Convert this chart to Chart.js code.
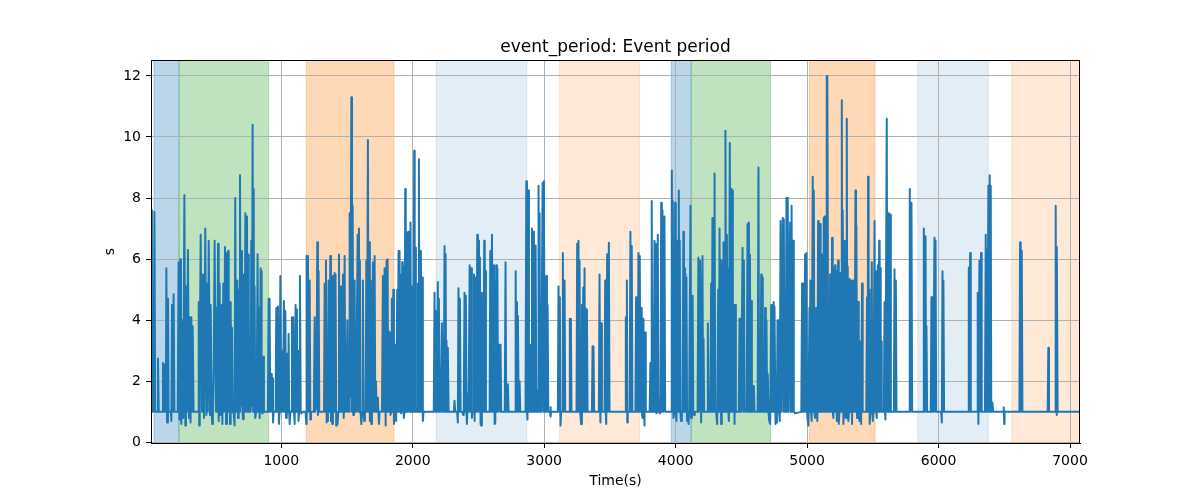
<!DOCTYPE html>
<html>
<head>
<meta charset="utf-8">
<script src="https://cdn.jsdelivr.net/npm/chart.js@4.4.0/dist/chart.umd.min.js"></script>
<style>
  body { margin: 0; background: #fff; }
  canvas { display: block; }
</style>
</head>
<body>
<canvas id="event-chart" width="1200" height="500"></canvas>
<script>
// sample times (s) and event period (s)
var time = [
    10, 16, 28, 35, 41, 56, 62, 68, 95, 100, 104, 108, 112, 122, 126, 131, 138, 143, 160, 164, 169, 175, 181, 187,
    212, 219, 225, 232, 237, 240, 247, 254, 263, 270, 275, 282, 290, 298, 303, 310, 316, 321, 326, 333,
    368, 372, 376, 380, 387, 397, 405, 412, 422, 430, 435, 441, 448, 458, 463, 470, 475, 480, 486, 493, 503, 506, 512,
    519, 524, 531, 537, 544, 552, 559, 565, 572, 580, 587, 592,
    595, 600, 605, 610, 615, 620, 625, 631, 638, 645, 650, 656, 661, 666, 671, 676, 681, 686, 691, 696, 701, 705, 709,
    714, 720, 727, 733, 739, 743, 747, 751, 754, 758, 762, 767, 772, 777, 782, 786, 790, 794, 797, 802, 808, 814, 820,
    825, 830, 836, 843, 846, 848, 853, 858, 863, 868, 875,
    898, 904, 908, 911, 916, 924, 928, 932, 937, 942,
    957, 962, 968, 975, 982, 987, 993, 999, 1003, 1008, 1013, 1020, 1026, 1031, 1036, 1042, 1046, 1051, 1056, 1060, 1064, 1069,
    1076, 1081, 1086, 1091, 1097, 1102, 1109, 1114, 1119, 1123, 1127, 1131, 1136, 1142, 1148, 1155, 1162,
    1185, 1190, 1193, 1198,
    1203, 1208, 1216, 1221, 1226, 1248, 1254, 1258, 1262, 1267, 1274, 1279, 1284, 1289,
    1325, 1330, 1335, 1340, 1345, 1350, 1355, 1360, 1366, 1373, 1378, 1383, 1388, 1393, 1399, 1406, 1410, 1413, 1418,
    1423, 1428, 1434, 1439, 1444, 1449, 1454,
    1464, 1469, 1475, 1482, 1487, 1493, 1499, 1503, 1508, 1512, 1516, 1520, 1525, 1533, 1538, 1543, 1548, 1553, 1558,
    1563, 1570, 1576, 1581, 1586, 1591, 1595, 1598, 1603, 1609, 1615, 1621, 1626, 1631, 1636, 1642, 1647, 1652, 1659,
    1664, 1669, 1674, 1680, 1685, 1690, 1697, 1702, 1710, 1715, 1720, 1725, 1735, 1739, 1743, 1748, 1766, 1773, 1779,
    1786, 1794, 1801, 1806, 1809,
    1813, 1817, 1822, 1826, 1831, 1836, 1841, 1846, 1852, 1857, 1862, 1867, 1874, 1882, 1887, 1892, 1896, 1900, 1904,
    1907, 1912, 1920, 1924, 1928, 1932, 1938, 1943, 1947, 1950, 1954, 1958, 1963, 1968, 1973, 1977, 1983, 1988, 1993,
    1997, 2001, 2006, 2011, 2015, 2019, 2024, 2029, 2034, 2040, 2043, 2047, 2051, 2054, 2058, 2062, 2067, 2072, 2077, 2082,
    2160, 2166, 2172, 2179, 2184, 2191, 2195, 2199, 2204, 2209, 2214, 2222, 2228, 2236, 2242, 2246, 2250, 2254, 2257,
    2262, 2267, 2273,
    2313, 2318, 2323, 2338, 2343, 2348, 2353, 2359, 2364, 2378, 2383, 2388, 2394, 2399, 2404, 2409, 2412, 2416,
    2420, 2425, 2433, 2438, 2445, 2450, 2455, 2460, 2466, 2471, 2478, 2484, 2491, 2496, 2504, 2508, 2511, 2516, 2521,
    2526, 2531, 2538, 2544, 2548, 2552, 2557,
    2585, 2590, 2595, 2603, 2607, 2610, 2614, 2618, 2623, 2628, 2635, 2640, 2644, 2649, 2656, 2661, 2665, 2668, 2673,
    2700, 2706, 2711, 2717, 2721, 2724, 2729,
    2778, 2783, 2788, 2793, 2797, 2800, 2806, 2813, 2818,
    2858, 2864, 2869, 2873, 2879, 2884, 2892, 2897, 2902, 2907, 2912, 2917, 2922, 2927, 2931, 2935, 2940, 2946, 2950,
    2954, 2957, 2961, 2965, 2969, 2972, 2977, 2983, 2988, 2993, 2998, 3003, 3010, 3016, 3021, 3026, 3031,
    3045, 3048, 3050, 3052,
    3104, 3109, 3114, 3119, 3124, 3129, 3137, 3142, 3147, 3155, 3160,
    3190, 3195, 3200, 3203, 3208,
    3246, 3251, 3256, 3261, 3265, 3269, 3274, 3281, 3287, 3292, 3297, 3302, 3307, 3311, 3314, 3319, 3325, 3330,
    3363, 3368, 3372, 3375, 3380,
    3416, 3421, 3426, 3428, 3434, 3439,
    3459, 3464, 3468, 3472, 3479, 3484, 3492, 3497,
    3615, 3621, 3626, 3629, 3632, 3636,
    3650, 3656, 3661, 3666, 3671,
    3694, 3699, 3704, 3707, 3712, 3717, 3722, 3727, 3732, 3737, 3742, 3748, 3755, 3760, 3763, 3768, 3773,
    3802, 3808, 3813, 3818, 3823, 3828, 3833, 3839, 3844, 3849, 3854, 3859, 3864, 3869, 3874, 3880, 3885, 3890, 3895,
    3900, 3905, 3910, 3915, 3920,
    3965, 3971, 3975, 3978, 3983, 3989, 3996, 4001, 4006, 4014, 4019, 4024, 4028, 4031, 4036, 4041, 4047, 4053, 4059,
    4063, 4067, 4071, 4075, 4079, 4082, 4087, 4093, 4098, 4103, 4108, 4113, 4118, 4124, 4129, 4134, 4140, 4146,
    4167, 4173, 4178, 4186, 4194, 4204, 4209, 4212, 4217,
    4240, 4245, 4250, 4264, 4270, 4275, 4280, 4285, 4291, 4294, 4296, 4301, 4308, 4316, 4324, 4329, 4334, 4338, 4341,
    4346, 4351, 4357, 4361, 4364, 4368, 4372, 4376, 4379, 4384, 4390, 4394, 4397, 4401, 4405, 4412, 4417, 4422, 4426,
    4430, 4435, 4440, 4445, 4448, 4453, 4458, 4465,
    4480, 4486, 4490, 4493, 4498, 4503, 4509, 4514, 4519, 4524, 4528, 4534, 4540, 4547, 4552, 4557, 4561, 4565, 4570,
    4575, 4580, 4585, 4595, 4600,
    4624, 4630, 4635, 4640, 4646, 4651, 4655, 4658, 4663, 4668, 4675, 4681, 4686, 4691, 4696, 4701, 4706, 4712, 4719,
    4727, 4732, 4737, 4741, 4744, 4748, 4752, 4760, 4765, 4770, 4775, 4779, 4782, 4787, 4792, 4798, 4803, 4808, 4815,
    4820, 4823, 4828, 4837, 4843, 4847, 4850,
    4853, 4858, 4862, 4871, 4875, 4878, 4881, 4883, 4888, 4894, 4899, 4904, 4909,
    4956, 4962, 4967, 4972, 4977, 4985, 4990, 4995, 5000, 5005, 5010, 5018, 5022, 5025, 5030, 5035, 5043, 5047, 5051,
    5056, 5060, 5068, 5073, 5078, 5084, 5088, 5091, 5095, 5099, 5103, 5106, 5111, 5115, 5119, 5122, 5124, 5128, 5132,
    5136, 5140, 5144, 5148, 5151, 5154, 5161, 5165, 5170, 5175, 5180, 5185, 5190, 5195, 5200, 5205, 5209, 5213, 5217,
    5221, 5226, 5231, 5236, 5241, 5246, 5253, 5258, 5264, 5268, 5271, 5276, 5281, 5286, 5291, 5296, 5302, 5306, 5309,
    5314, 5319, 5324, 5329, 5335, 5342, 5350, 5355, 5361, 5368, 5372, 5375, 5380, 5384, 5388, 5393, 5398, 5406, 5411,
    5418, 5423, 5428, 5440, 5450, 5456, 5459,
    5462, 5464, 5468, 5472, 5476, 5481, 5487, 5492, 5496, 5500, 5506, 5513, 5518, 5523, 5527, 5530, 5538, 5542, 5548,
    5552, 5556, 5560, 5563, 5568, 5574,
    5584, 5589, 5593, 5596, 5606, 5611, 5617, 5622, 5627, 5632, 5637,
    5660, 5665, 5670, 5675, 5680,
    5776, 5781, 5786, 5794, 5799,
    5883, 5888, 5893, 5901, 5905, 5908, 5913,
    5941, 5946, 5950, 5954, 5959, 5964, 5969, 5973, 5977, 5982,
    6020, 6025, 6030, 6034, 6037, 6042,
    6225, 6230, 6235, 6240, 6245,
    6293, 6298, 6303, 6311, 6316, 6323, 6328,
    6353, 6359, 6363, 6367, 6371, 6375, 6379, 6383, 6389, 6393, 6397, 6401, 6406, 6410, 6415,
    6493, 6496, 6499, 6502,
    6615, 6620, 6625, 6633, 6638,
    6830, 6835, 6840,
    6886, 6891, 6896, 6898, 6901, 6906,
    7076
];

var period = [
    7.6, 1.0, 1.0, 7.55, 1.0, 1.0, 2.75, 1.0, 1.0, 2.6, 1.0, 2.55, 1.0, 1.0, 5.7, 0.65, 4.7, 1.0, 1.0, 0.7, 4.5, 1.0, 4.85, 1.0,
    1.0, 5.9, 0.75, 6.0, 1.0, 0.6, 4.0, 0.8, 8.1, 0.55, 5.1, 1.0, 6.3, 0.8, 4.1, 0.65, 4.1, 1.0, 3.8, 1.0,
    1.0, 4.6, 0.55, 2.8, 6.8, 1.0, 5.5, 0.8, 7.0, 0.9, 5.2, 1.0, 6.6, 0.9, 4.5, 1.0, 0.6, 1.0, 2.5, 6.6, 1.0, 4.4, 1.0,
    6.5, 0.7, 5.2, 0.9, 4.5, 0.6, 5.2, 1.0, 6.4, 0.6, 6.2, 1.0,
    6.27, 1.0, 4.6, 0.6, 4.6, 1.0, 3.75, 1.0, 0.95, 0.55, 8.0, 1.0, 3.0, 5.3, 0.8, 5.0, 1.0, 8.75, 1.2, 6.27, 5.8, 1.0, 0.76,
    5.5, 1.0, 7.5, 1.0, 7.4, 1.5, 6.15, 1.0, 4.0, 1.0, 1.8, 1.0, 6.6, 1.2, 10.4, 1.0, 8.3, 1.0, 5.1, 0.8, 1.0, 2.0, 6.16,
    1.0, 4.4, 0.8, 5.7, 1.0, 5.6, 1.0, 0.95, 2.8, 1.0, 1.0,
    1.0, 4.7, 1.0, 4.7, 1.0, 2.24, 1.0, 2.1, 0.65, 1.0,
    1.0, 4.4, 1.0, 4.45, 0.6, 1.0, 5.45, 1.0, 1.0, 3.0, 1.0, 4.63, 1.0, 4.3, 0.8, 1.0, 2.9, 1.0, 3.55, 1.0, 0.6, 1.0,
    1.0, 4.1, 1.0, 4.1, 1.0, 0.6, 4.5, 1.0, 4.35, 1.0, 3.0, 0.7, 1.0, 5.45, 1.0, 0.95, 1.0,
    1.0, 0.6, 6.1, 1.0,
    6.1, 1.0, 5.3, 0.75, 1.0, 1.0, 4.1, 1.0, 1.0, 1.2, 6.55, 0.9, 5.6, 1.0,
    1.0, 5.2, 1.0, 5.95, 0.65, 1.0, 0.7, 5.3, 1.0, 6.1, 0.7, 1.0, 0.6, 5.45, 1.0, 5.55, 1.0, 5.5, 0.55,
    1.0, 0.6, 1.0, 6.15, 1.0, 5.1, 1.0,
    1.0, 5.5, 0.8, 6.1, 1.0, 1.0, 1.0, 4.0, 1.0, 2.3, 1.0, 7.5, 1.5, 11.3, 1.0, 7.75, 0.9, 1.5, 5.3,
    1.0, 1.0, 1.0, 6.8, 1.0, 7.0, 1.0, 5.95, 1.0, 0.6, 1.0, 5.3, 1.0, 0.7, 1.0, 1.0, 5.95, 1.0, 9.9,
    1.0, 6.55, 0.7, 5.3, 0.6, 1.0, 5.9, 1.0, 6.1, 1.0, 2.0, 1.0, 1.47, 1.0, 0.6, 1.0, 1.0, 5.45, 1.0,
    5.7, 0.55, 5.95, 1.0, 6.0,
    1.0, 3.65, 1.0, 3.6, 0.9, 1.0, 4.7, 1.0, 5.0, 0.6, 1.0, 3.2, 0.7, 5.0, 1.0, 6.27, 1.0, 6.27, 1.0,
    5.5, 0.95, 5.9, 1.0, 5.75, 0.8, 1.0, 8.3, 1.0, 6.37, 1.0, 6.87, 1.0, 6.9, 1.8, 1.0, 7.2, 1.0, 5.1,
    1.0, 2.1, 1.0, 9.55, 1.0, 6.37, 1.0, 1.15, 1.0, 5.2, 1.0, 9.27, 1.0, 6.27, 1.0, 6.27, 1.0, 5.4, 0.7, 1.0,
    1.0, 4.9, 1.0, 4.3, 1.0, 5.25, 1.0, 4.7, 1.0, 1.15, 1.0, 3.9, 1.0, 1.0, 6.43, 1.0, 6.16, 1.0, 3.33,
    1.0, 3.1, 1.0,
    1.0, 1.36, 1.0, 1.0, 0.65, 5.05, 1.0, 4.7, 1.0, 1.0, 0.9, 1.0, 4.9, 1.0, 4.8, 1.0, 0.6, 1.0,
    1.6, 1.0, 5.8, 1.0, 5.7, 0.8, 1.0, 1.0, 5.5, 0.7, 5.4, 1.0, 6.8, 1.0, 6.6, 1.0, 6.05, 0.6, 0.55,
    4.9, 1.0, 1.0, 6.6, 1.0, 5.6, 1.0,
    1.0, 6.27, 1.0, 6.8, 1.0, 5.6, 1.0, 5.8, 0.6, 0.65, 5.8, 1.0, 5.7, 1.0, 1.0, 3.2, 1.0, 3.2, 1.0,
    1.0, 5.9, 1.0, 1.9, 1.0, 1.9, 1.0,
    1.0, 5.6, 1.0, 4.6, 1.0, 4.15, 1.0, 2.0, 1.0,
    1.0, 8.55, 1.0, 0.75, 8.25, 1.0, 1.0, 3.2, 1.0, 7.0, 1.0, 6.9, 1.0, 6.3, 1.0, 6.45, 1.0, 1.0, 1.7,
    1.0, 8.4, 1.0, 7.5, 1.0, 1.8, 1.0, 1.0, 8.5, 1.0, 8.55, 1.0, 1.0, 5.45, 1.0, 4.5, 1.0,
    1.0, 1.15, 0.85, 1.0,
    1.0, 5.1, 1.0, 4.75, 0.55, 1.0, 1.0, 6.2, 1.0, 5.3, 1.0,
    1.0, 4.05, 1.0, 4.05, 1.0,
    1.0, 6.5, 1.0, 6.6, 1.0, 5.95, 1.0, 0.6, 4.5, 1.0, 5.07, 1.0, 5.7, 1.0, 4.4, 1.0, 4.35, 1.0,
    1.0, 3.15, 1.0, 3.15, 1.0,
    1.0, 5.5, 1.0, 0.65, 3.9, 1.0,
    1.0, 5.3, 1.0, 0.6, 6.16, 1.0, 6.54, 1.0,
    1.0, 4.1, 1.0, 5.3, 0.65, 1.0,
    1.0, 6.9, 1.0, 6.43, 1.0,
    1.0, 4.75, 1.0, 4.7, 1.0, 6.2, 1.0, 6.1, 1.0, 4.4, 1.0, 0.8, 4.05, 1.0, 0.55, 3.6, 1.0,
    1.0, 2.6, 1.0, 7.9, 1.0, 1.8, 1.0, 6.6, 1.0, 6.5, 0.95, 1.0, 6.8, 1.5, 1.0, 0.95, 1.0, 7.85, 1.0,
    7.6, 1.0, 1.0, 7.4, 1.0,
    1.0, 8.9, 1.0, 7.9, 0.8, 1.0, 7.85, 1.0, 0.7, 6.6, 1.0, 8.25, 1.0, 6.6, 1.0, 0.7, 1.0, 1.0, 6.9,
    1.0, 5.7, 1.0, 5.5, 1.0, 5.4, 0.7, 1.0, 0.6, 1.0, 1.0, 7.75, 0.8, 1.0, 4.8, 1.0, 0.9, 1.0,
    1.0, 6.05, 1.0, 5.95, 0.65, 6.1, 1.0, 3.4, 1.0,
    1.0, 3.9, 1.0, 1.0, 5.2, 1.0, 7.35, 1.0, 7.35, 1.5, 8.8, 1.0, 1.0, 0.6, 5.0, 1.0, 7.0, 1.0, 6.0,
    0.6, 1.0, 5.95, 1.0, 6.55, 1.0, 6.3, 1.0, 10.2, 1.0, 6.8, 1.0, 5.7, 1.0, 0.7, 9.8, 1.0, 8.3, 1.0,
    8.25, 1.0, 2.9, 4.5, 0.6, 4.5, 1.0, 1.0,
    1.0, 4.05, 1.0, 4.05, 1.0, 1.0, 6.37, 1.0, 5.95, 1.0, 1.1, 1.1, 1.0, 7.15, 1.0, 7.2, 1.0, 6.15, 1.0,
    4.63, 1.0, 1.0, 1.85, 1.0,
    1.0, 9.0, 1.0, 1.0, 1.0, 5.5, 1.0, 5.4, 1.0, 1.0, 1.0, 4.4, 1.0, 4.0, 1.0, 2.24, 1.0, 0.7, 0.6,
    4.5, 1.0, 4.45, 1.0, 4.6, 1.0, 4.45, 0.6, 1.0, 0.65, 4.0, 1.0, 4.0, 1.0, 0.7, 7.25, 1.0, 1.0, 7.35,
    1.0, 7.3, 1.0, 1.0, 8.0, 1.0, 5.1,
    8.0, 1.0, 1.0, 7.2, 1.0, 7.0, 1.0, 7.75, 1.0, 6.6, 1.0, 1.0, 0.95,
    1.0, 5.2, 1.0, 5.2, 1.0, 6.15, 1.0, 6.2, 1.0, 0.7, 0.55, 4.4, 1.0, 5.3, 1.0, 0.7, 8.7, 1.0, 8.25,
    1.0, 0.8, 4.4, 1.0, 0.7, 7.25, 1.0, 6.6, 1.0, 7.15, 1.0, 6.15, 1.0, 1.2, 6.15, 1.0, 7.35, 1.0, 7.4,
    1.0, 6.1, 1.0, 12.0, 11.7, 12.0, 1.0, 1.8, 1.0, 5.5, 1.0, 1.2, 6.7, 1.0, 0.8, 5.7, 1.0, 5.8, 1.0,
    5.6, 0.7, 1.0, 5.95, 0.6, 1.0, 5.55, 1.0, 11.2, 1.0, 7.6, 0.6, 1.0, 6.6, 1.0, 0.8, 10.6, 1.0, 5.75,
    0.7, 1.0, 5.35, 1.0, 5.3, 0.6, 5.3, 1.0, 1.0, 8.25, 1.0, 7.1, 0.8, 1.0, 4.6, 1.0, 0.7, 3.3, 0.6,
    5.2, 1.0, 1.0, 1.0, 1.0, 4.75, 1.0,
    1.0, 8.7, 1.0, 5.0, 0.6, 1.0, 4.0, 5.9, 1.0, 0.7, 1.0, 7.25, 1.0, 5.6, 1.0, 0.8, 5.8, 1.0, 6.6,
    1.0, 5.7, 1.0, 3.3, 1.0, 1.0,
    1.0, 4.6, 1.0, 0.75, 10.6, 1.0, 1.0, 7.5, 1.0, 7.45, 1.0,
    1.0, 5.67, 1.0, 5.3, 1.0,
    1.0, 8.3, 1.0, 7.85, 1.0,
    1.0, 7.0, 1.0, 6.75, 1.0, 3.8, 1.0,
    1.0, 4.75, 1.0, 4.75, 1.0, 1.0, 6.7, 1.0, 6.6, 1.0,
    1.0, 0.65, 5.6, 1.0, 5.3, 1.0,
    1.0, 5.73, 1.0, 6.2, 1.0,
    1.0, 4.9, 0.6, 5.95, 1.0, 6.2, 1.0,
    1.0, 6.8, 1.0, 6.3, 1.0, 1.0, 8.4, 1.0, 8.75, 1.0, 8.4, 1.0, 1.0, 1.3, 1.0,
    1.0, 1.15, 0.6, 1.0,
    1.0, 6.55, 1.0, 6.27, 1.0,
    1.0, 3.1, 1.0,
    1.0, 7.75, 1.0, 0.9, 6.4, 1.0,
    1.0
];

// shaded phases (axvspan)
var spanStart = [32, 222, 1190, 2179, 3117, 3966, 4118, 5018, 5842, 6557];
var spanEnd = [222, 904, 1857, 2868, 3725, 4118, 4722, 5517, 6379, 7100];
var spanColor = [
    'rgba(31, 119, 180, 0.3)', 'rgba(44, 160, 44, 0.3)', 'rgba(255, 127, 14, 0.3)',
    'rgba(31, 119, 180, 0.13)', 'rgba(255, 127, 14, 0.17)',
    'rgba(31, 119, 180, 0.3)', 'rgba(44, 160, 44, 0.3)', 'rgba(255, 127, 14, 0.3)',
    'rgba(31, 119, 180, 0.13)', 'rgba(255, 127, 14, 0.17)'
];

var xTicks = [1000, 2000, 3000, 4000, 5000, 6000, 7000];
var yTicks = [0, 2, 4, 6, 8, 10, 12];

var FONT = 'DejaVu Sans';

var points = time.map(function(t, i) {
    return { x: t, y: period[i] };
});

// spans go under the grid, like matplotlib patches
var spanPlugin = {
    id: 'spans',
    beforeDraw: function(chart) {
        var c = chart.ctx, area = chart.chartArea, xs = chart.scales.x;
        c.save();
        c.beginPath();
        c.rect(area.left, area.top, area.right - area.left, area.bottom - area.top);
        c.clip();
        for (var i = 0; i < spanStart.length; i++) {
            var x0 = xs.getPixelForValue(spanStart[i]);
            var x1 = xs.getPixelForValue(spanEnd[i]);
            c.fillStyle = spanColor[i];
            c.fillRect(x0, area.top, x1 - x0, area.bottom - area.top);
            c.strokeStyle = spanColor[i];
            c.lineWidth = 1;
            c.strokeRect(x0, area.top, x1 - x0, area.bottom - area.top);
        }
        c.restore();
    }
};

// frame and texts
var textPlugin = {
    id: 'texts',
    afterDraw: function(chart) {
        var c = chart.ctx, area = chart.chartArea;
        c.save();
        c.strokeStyle = '#000';
        c.lineWidth = 1;
        c.strokeRect(Math.round(area.left) + 0.5, Math.round(area.top) + 0.5,
            Math.round(area.right - area.left) - 1, Math.round(area.bottom - area.top));
        c.fillStyle = '#000';
        c.textAlign = 'center';
        c.font = '17px "' + FONT + '"';
        c.textBaseline = 'alphabetic';
        c.fillText('event_period: Event period', (area.left + area.right) / 2, 52);
        c.font = '14px "' + FONT + '"';
        c.textBaseline = 'middle';
        c.fillText('Time(s)', (area.left + area.right) / 2, 481);
        c.translate(110, (area.top + area.bottom) / 2);
        c.rotate(-Math.PI / 2);
        c.fillText('s', 0, 0);
        c.restore();
    }
};

var ctx = document.getElementById('event-chart').getContext('2d');

var chart = new Chart(ctx, {
    type: 'line',
    data: {
        datasets: [{
            data: points,
            borderColor: '#1f77b4',
            borderWidth: 2,
            borderJoinStyle: 'round',
            pointRadius: 0,
            tension: 0,
            fill: false
        }]
    },
    options: {
        responsive: false,
        animation: false,
        devicePixelRatio: 1,
        layout: {
            padding: { left: 0, right: 120, top: 60, bottom: 0 }
        },
        plugins: {
            legend: { display: false },
            tooltip: { enabled: false }
        },
        scales: {
            x: {
                type: 'linear',
                min: 9,
                max: 7076,
                afterBuildTicks: function(scale) {
                    scale.ticks = xTicks.map(function(v) { return { value: v }; });
                },
                afterFit: function(scale) {
                    scale.height = 57;
                },
                ticks: {
                    color: '#000',
                    padding: 5,
                    maxRotation: 0,
                    autoSkip: false,
                    font: { family: FONT, size: 14 },
                    callback: function(v) { return String(v); }
                },
                grid: {
                    color: '#b0b0b0',
                    lineWidth: 1,
                    tickLength: 5,
                    tickColor: '#000'
                },
                border: { color: '#000', width: 1 }
            },
            y: {
                min: -0.02,
                max: 12.52,
                afterBuildTicks: function(scale) {
                    scale.ticks = yTicks.map(function(v) { return { value: v }; });
                },
                afterFit: function(scale) {
                    scale.width = 151;
                },
                ticks: {
                    color: '#000',
                    padding: 5,
                    font: { family: FONT, size: 14 },
                    callback: function(v) { return String(v); }
                },
                grid: {
                    color: '#b0b0b0',
                    lineWidth: 1,
                    tickLength: 5,
                    tickColor: '#000'
                },
                border: { color: '#000', width: 1 }
            }
        }
    },
    plugins: [spanPlugin, textPlugin]
});
</script>
</body>
</html>
